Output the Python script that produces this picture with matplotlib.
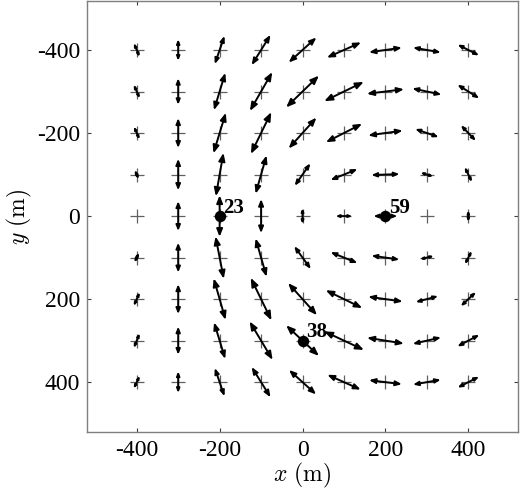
import numpy as np
import matplotlib
matplotlib.use("Agg")
import matplotlib.pyplot as plt
from matplotlib.patches import FancyArrowPatch

plt.rcParams['mathtext.fontset'] = 'cm'

# grid of observation points (m)
x_pos = [-400, -300, -200, -100, 0, 100, 200, 300, 400]
y_pos = [-400, -300, -200, -100, 0, 100, 200, 300, 400]

# arrow half-length (m), rows = y_pos, cols = x_pos
half_len = [
    [18, 26, 36, 43, 45, 45, 40, 34, 29],
    [18, 32, 47, 54, 55, 53, 45, 36, 31],
    [17, 36, 51, 56, 50, 49, 42, 30, 26],
    [12, 38, 53, 48, 33, 35, 34, 16, 20],
    [0, 36, 50, 41, 19, 20, 29, 0, 14],
    [13, 36, 52, 48, 34, 35, 34, 17, 18],
    [18, 36, 52, 57, 52, 49, 42, 28, 25],
    [19, 34, 46, 54, 54, 53, 45, 35, 30],
    [17, 26, 36, 43, 44, 44, 40, 34, 29],
]
# arrow orientation (deg, from +x toward +y)
angle_deg = [
    [67, 90, -71, -58, -42, -24, -8, 10, 27],
    [66, 90, -73, -60, -44, -26, -7, 12, 32],
    [66, 90, -73, -64, -48, -27, -8, 19, 46],
    [66, 90, -80, -74, -55, -22, -2, 17, 64],
    [0, 90, 90, 90, 90, 0, 0, 0, 90],
    [-65, 90, 79, 74, 54, 22, 8, -13, -63],
    [-66, 90, 74, 64, 48, 26, 8, -15, -43],
    [-68, 90, 73, 59, 43, 25, 9, -13, -28],
    [-65, 90, 71, 58, 42, 24, 7, -10, -27],
]

# labelled stations
st_x = [-200, 0, 200]
st_y = [0, 300, 0]
st_lab = ["23", "38", "59"]

tick_vals = [-400, -200, 0, 200, 400]
tick_labs = ["-400", "-200", "0", "200", "400"]

fig = plt.figure(figsize=(5.20, 4.99), dpi=100)
ax = fig.add_axes([0.1673, 0.1343, 0.829, 0.8637])

GX, GY = np.meshgrid(x_pos, y_pos)
ax.scatter(GX.ravel(), GY.ravel(), marker='+', s=90, c='#606060',
           linewidths=0.9, zorder=1)

ax.set_xlim(-520, 520)
ax.set_ylim(520, -518)
px_per_m = 431.0 / 1040.0

for i, yy in enumerate(y_pos):
    for j, xx in enumerate(x_pos):
        h = half_len[i][j]
        if h <= 0:
            continue
        a = np.deg2rad(angle_deg[i][j])
        du, dv = h * np.cos(a), h * np.sin(a)
        hpx = h * px_per_m
        hl = float(np.clip(0.3 * hpx * 0.72, 1.5, 5.2))
        hw = 0.4 * hl
        arr = FancyArrowPatch((xx - du, yy - dv), (xx + du, yy + dv),
                              arrowstyle=f'<|-|>,head_length={hl:.2f},head_width={hw:.2f}',
                              mutation_scale=1, lw=1.4, color='black',
                              shrinkA=0, shrinkB=0, zorder=3)
        ax.add_patch(arr)

ax.plot(st_x, st_y, 'o', color='black', markersize=7.2, zorder=4)
for sx, sy, lab in zip(st_x, st_y, st_lab):
    ax.annotate(lab, (sx, sy), xytext=(2.5, 2.5), textcoords='offset points',
                ha='left', va='baseline', fontsize=15, fontweight='bold',
                family='Liberation Serif', zorder=5)

ax.set_xticks(tick_vals)
ax.set_xticklabels(tick_labs)
ax.set_yticks(tick_vals)
ax.set_yticklabels(tick_labs)
for lab in ax.get_xticklabels() + ax.get_yticklabels():
    lab.set_family('Liberation Serif')
    lab.set_fontsize(17)

ax.tick_params(direction='in', length=3, width=0.8, color='#404040',
               top=True, right=True, labeltop=False, labelright=False)
ax.tick_params(axis='y', pad=5)
ax.tick_params(axis='x', pad=6)
for sp in ax.spines.values():
    sp.set_color('#7f7f7f')
    sp.set_linewidth(1.0)

ax.set_xlabel(r"$x\ (\mathrm{m})$", fontsize=17, labelpad=0)
ax.set_ylabel(r"$y\ (\mathrm{m})$", fontsize=17, labelpad=2)

fig.savefig("out.png", dpi=100)
